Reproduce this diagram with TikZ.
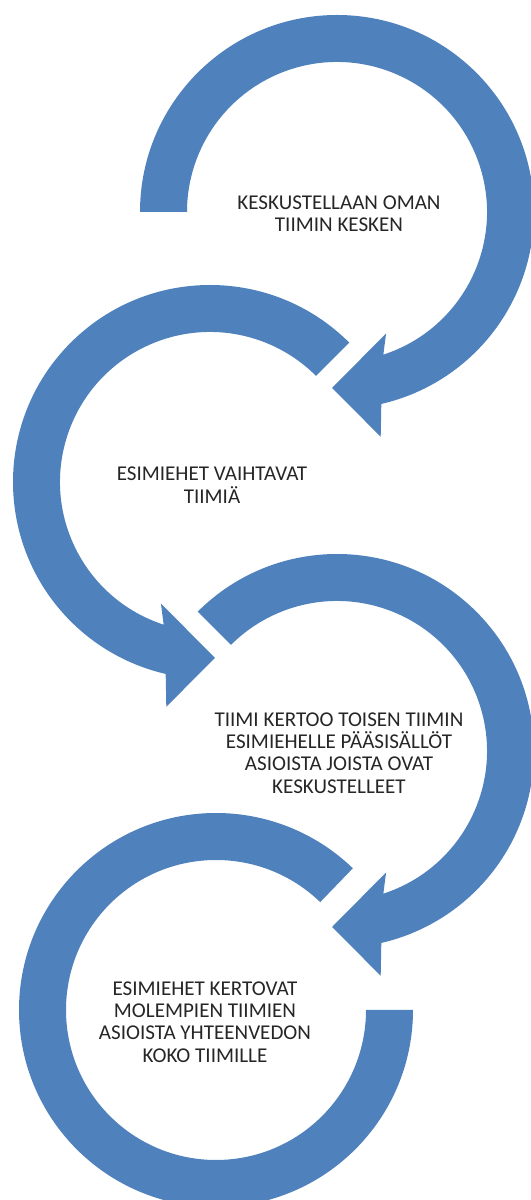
\documentclass[tikz,border=0pt]{standalone}
\usepackage{fontspec}
\setmainfont{Carlito}
\definecolor{bleu}{HTML}{4F81BD}

\begin{document}
\begin{tikzpicture}[x=0.75pt,y=0.75pt,
    texte/.style={align=center,text=black!85,font=\fontsize{15.8}{16.8}\selectfont}]
                    \def\boucle#1{\fill[bleu](#1:197)arc[start angle=#1,end angle=-77,radius=197]--(-79:229)--(-91.6:176)--(-68:131)--(-72:150)arc[start angle=-72,end angle=#1,radius=150]--cycle;}
                    \useasboundingbox(0,0)rectangle(531,1200);
                    \begin{scope}[shift={(337,988)}]
                        \boucle{180}
                    \end{scope}
                    \begin{scope}[shift={(210,718)},xscale=-1]
                        \boucle{135}
                    \end{scope}
                    \begin{scope}[shift={(337,449)}]
                        \boucle{135}
                    \end{scope}
                    \begin{scope}[shift={(216,190)}]
                        \fill[bleu](0:197)arc[start angle=0,end angle=-314,radius=197]--(-314:150)arc[start angle=-314,end angle=0,radius=150]--cycle;
                    \end{scope}
                    \node[texte](etape1)at(339,986){KESKUSTELLAAN OMAN\\TIIMIN KESKEN};
                    \node[texte](etape2)at(212,715){ESIMIEHET VAIHTAVAT\\TIIMIÄ};
                    \node[texte](etape3)at(339,447){TIIMI KERTOO TOISEN TIIMIN\\ESIMIEHELLE PÄÄSISÄLLÖT\\ASIOISTA JOISTA OVAT\\KESKUSTELLEET};
                    \node[texte](etape4)at(205,178){ESIMIEHET KERTOVAT\\MOLEMPIEN TIIMIEN\\ASIOISTA YHTEENVEDON\\KOKO TIIMILLE};
                \end{tikzpicture}
\end{document}
